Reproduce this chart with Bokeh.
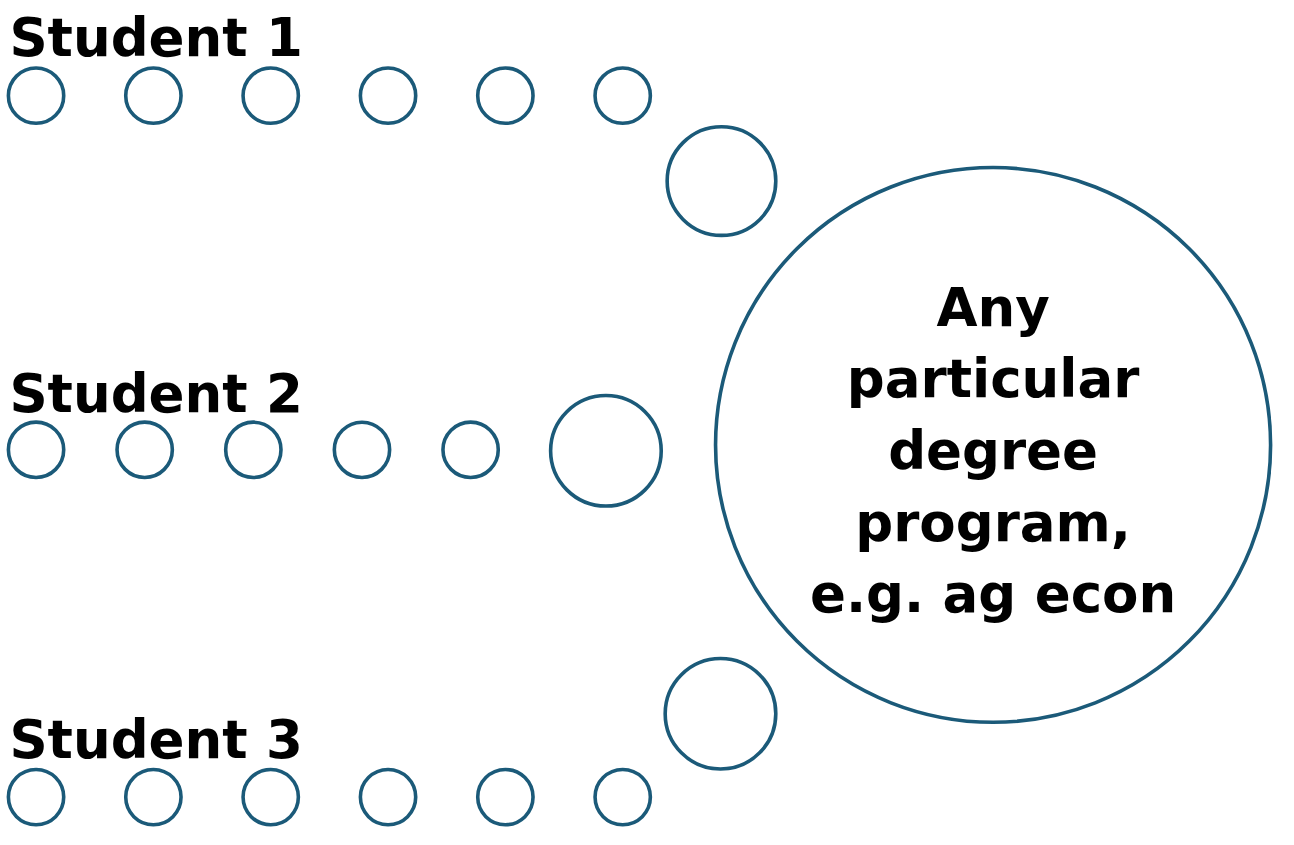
from bokeh.plotting import figure
from bokeh.models import Range1d
from bokeh.core.properties import value
from bokeh.embed import file_html
from bokeh.resources import INLINE

# ---- data ----
students = ["Student 1", "Student 2", "Student 3"]
courses_per_student = [6, 5, 6]
center_label_lines = ["Any", "particular", "degree", "program,", "e.g. ag econ"]

# ---- layout (reference pixel space) ----
W, H = 1294, 845
row_y = [97, 458, 812]
label_baseline = [50, 413, 765]
step_x = [118.8, 110.0, 118.8]
start_x = 36
small_r = 28
final_xy = [(730, 184), (613, 459), (729, 727)]
final_r = [55, 56, 56]
big_xy = (1005, 453)
big_r = 281
line_base0, line_step = 325, 73

COLOR = "#1b5a79"
FONT = "DejaVu Sans"
FS = 53
BASE_FIX = -12   # move glyph baseline onto the requested y
LW = 3.6

p = figure(width=1278, height=829, x_range=Range1d(0, W), y_range=Range1d(H, 0),
           output_backend="svg", toolbar_location=None, min_border=0)
p.axis.visible = False
p.grid.visible = False
p.outline_line_color = None
p.background_fill_color = "white"

sx, sy = [], []
for i, n in enumerate(courses_per_student):
    for k in range(n):
        sx.append(start_x + k * step_x[i])
        sy.append(row_y[i])
p.circle(x=sx, y=sy, radius=small_r, fill_color=None, line_color=COLOR, line_width=LW)

p.circle(x=[f[0] for f in final_xy], y=[f[1] for f in final_xy], radius=final_r,
         fill_color=None, line_color=COLOR, line_width=LW)
p.circle(x=[big_xy[0]], y=[big_xy[1]], radius=big_r, fill_color=None,
         line_color=COLOR, line_width=LW)

p.text(x=[9] * len(students), y=label_baseline, text=students,
       text_font=value(FONT), text_font_style="bold", text_font_size=f"{FS}px",
       text_color="black", text_align="left", text_baseline="alphabetic",
       y_offset=BASE_FIX)

p.text(x=[big_xy[0]] * len(center_label_lines),
       y=[line_base0 + i * line_step for i in range(len(center_label_lines))],
       text=center_label_lines, text_font=value(FONT), text_font_style="bold",
       text_font_size=f"{FS}px", text_color="black", text_align="center",
       text_baseline="alphabetic", y_offset=BASE_FIX)

open("out.html", "w").write(file_html(p, INLINE))
